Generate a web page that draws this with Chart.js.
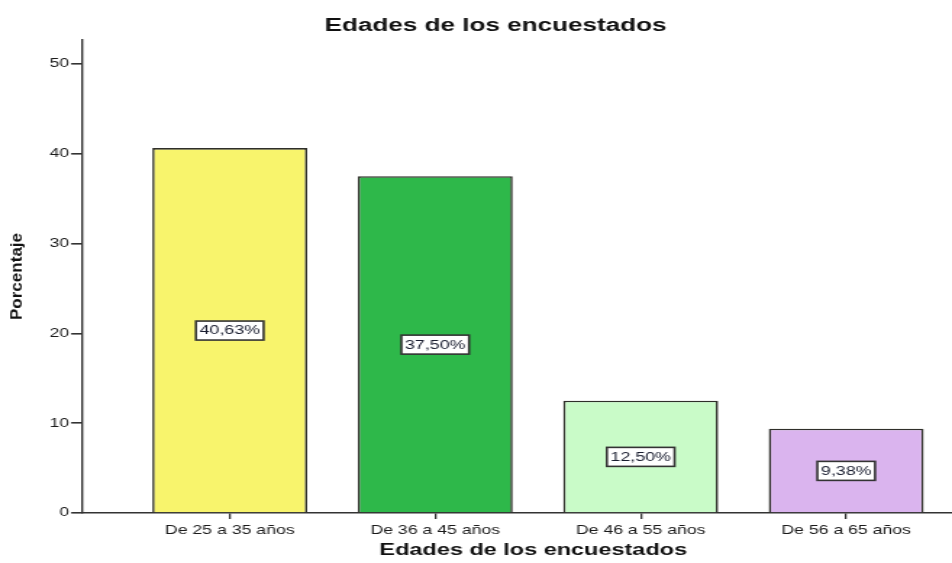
<!DOCTYPE html>
<html>
<head>
<meta charset="utf-8">
<script src="https://cdn.jsdelivr.net/npm/chart.js@4.4.1/dist/chart.umd.min.js"></script>
<style>
  html, body { margin: 0; padding: 0; background: #fff; overflow: hidden; }
  /* the chart is laid out narrow and stretched sideways, like the exported SPSS figure */
  #wrap { position: absolute; left: 0; top: 0; width: 657px; height: 563px;
          transform: scaleX(1.449); transform-origin: 0 0; }
</style>
</head>
<body>
<div id="wrap"><canvas id="edades"></canvas></div>
<script>
  // age groups and their share of respondents (%)
  const categories = ['De 25 a 35 años', 'De 36 a 45 años', 'De 46 a 55 años', 'De 56 a 65 años'];
  const percentages = [40.63, 37.50, 12.50, 9.38];
  const barColors = ['#F8F46C', '#2EB84A', '#C9FBC8', '#DAB4EE'];
  const yTicks = [0, 10, 20, 30, 40, 50];

  const chartTitle = 'Edades de los encuestados';
  const xTitle = 'Edades de los encuestados';
  const yTitle = 'Porcentaje';

  const FONT = 'Liberation Sans, Arial, sans-serif';

  // titles and the boxed percentage labels inside each bar
  const textPlugin = {
    id: 'texts',
    afterDraw(chart) {
      const ctx = chart.ctx;
      const area = chart.chartArea;
      const y = chart.scales.y;

      ctx.save();
      ctx.fillStyle = '#111';
      ctx.textAlign = 'center';
      ctx.textBaseline = 'middle';
      ctx.font = 'bold 18px ' + FONT;
      ctx.fillText(chartTitle, 342, 26);

      ctx.font = 'bold 16.2px ' + FONT;
      ctx.fillText(xTitle, 368, 551);

      // condensed vertical axis title
      ctx.translate(15.2, (area.top + area.bottom) / 2);
      ctx.rotate(-Math.PI / 2);
      ctx.scale(1.55, 1);
      ctx.font = 'bold 11px ' + FONT;
      ctx.textBaseline = 'alphabetic';
      ctx.fillText(yTitle, 0, 0);
      ctx.restore();

      const meta = chart.getDatasetMeta(0);
      ctx.save();
      ctx.font = '12.3px ' + FONT;
      ctx.textAlign = 'center';
      ctx.textBaseline = 'middle';
      meta.data.forEach(function (bar, i) {
        const v = percentages[i];
        const text = v.toFixed(2).replace('.', ',') + '%';
        const cy = y.getPixelForValue(v / 2);
        const w = ctx.measureText(text).width + 5;
        const h = 19;
        ctx.fillStyle = '#fff';
        ctx.fillRect(bar.x - w / 2, cy - h / 2, w, h);
        ctx.strokeStyle = '#333';
        ctx.lineWidth = 1.6;
        ctx.strokeRect(bar.x - w / 2, cy - h / 2, w, h);
        ctx.fillStyle = '#1a1e30';
        ctx.fillText(text, bar.x, cy + 0.5);
      });
      ctx.restore();
    }
  };

  new Chart('edades', {
    type: 'bar',
    data: {
      datasets: [{
        data: percentages.map(function (v, i) { return { x: i, y: v }; }),
        backgroundColor: barColors,
        borderColor: '#2f2f2a',
        borderWidth: 1.6,
        borderSkipped: 'bottom',
        barPercentage: 0.754,
        categoryPercentage: 1
      }]
    },
    options: {
      responsive: true,
      maintainAspectRatio: false,
      animation: false,
      layout: { padding: { top: 40, left: 0, right: 0, bottom: 0 } },
      plugins: {
        legend: { display: false },
        tooltip: { enabled: false },
        title: { display: false }
      },
      scales: {
        x: {
          type: 'linear',
          offset: false,
          min: -0.719,
          max: 3.515,
          afterBuildTicks: function (scale) {
            scale.ticks = categories.map(function (c, i) { return { value: i }; });
          },
          afterFit: function (scale) { scale.height = 50; },
          ticks: {
            autoSkip: false,
            maxRotation: 0,
            padding: 4,
            color: '#1a1a1a',
            font: { family: FONT, size: 12.2 },
            callback: function (value) { return categories[value]; }
          },
          grid: { offset: false, drawOnChartArea: false, drawTicks: true, tickLength: 6, color: '#333', lineWidth: 1.3 },
          border: { display: true, color: '#333', width: 1.6 }
        },
        y: {
          min: 0,
          max: 52.67,
          afterBuildTicks: function (scale) {
            scale.ticks = yTicks.map(function (v) { return { value: v }; });
          },
          afterFit: function (scale) { scale.width = 56.6; },
          ticks: {
            padding: 1.5,
            color: '#1a1a1a',
            font: { family: FONT, size: 12 }
          },
          grid: { drawOnChartArea: false, drawTicks: true, tickLength: 7.5, color: '#333', lineWidth: 1.6 },
          border: { display: true, color: '#333', width: 1.4 }
        }
      }
    },
    plugins: [textPlugin]
  });
</script>
</body>
</html>
